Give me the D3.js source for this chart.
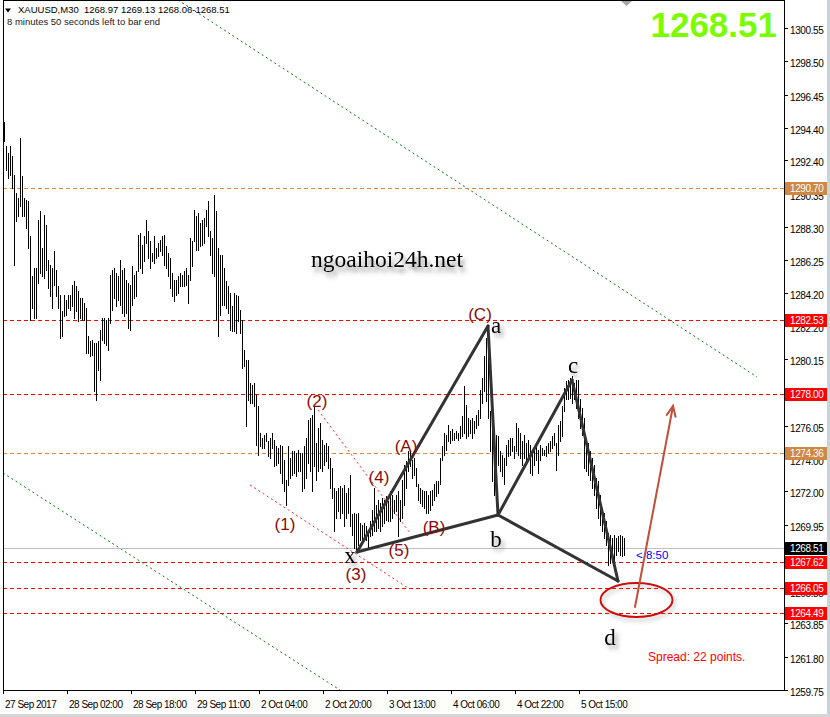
<!DOCTYPE html>
<html>
<head>
<meta charset="utf-8">
<script src="https://cdn.jsdelivr.net/npm/d3@7/dist/d3.min.js"></script>
<style>
html,body{margin:0;padding:0;background:#fff;}
svg{display:block;}
text{font-family:"Liberation Sans",Arial,sans-serif;}
</style>
</head>
<body>
<script>
// ---------------- DATA ----------------
const barHighs = [
1294.74,1293.26,1292.85,1293.26,1292.65,1291.52,1290.39,1290.08,1293.78,1291.42,
1290.08,1289.98,1289.87,1287.72,1285.25,1285.76,1285.76,1288.74,1289.26,1287.00,
1289.05,1288.44,1286.28,1285.97,1285.76,1286.79,1285.66,1284.63,1284.12,1283.09,
1284.12,1283.81,1284.12,1284.12,1284.74,1284.94,1284.63,1284.33,1283.91,1283.91,
1283.61,1283.30,1281.55,1281.24,1281.35,1281.14,1281.14,1281.24,1281.96,1282.68,
1282.68,1282.58,1282.68,1285.35,1285.66,1285.76,1285.46,1285.25,1286.28,1285.66,
1285.76,1285.04,1284.84,1284.74,1285.87,1285.35,1285.56,1287.82,1287.92,1287.20,
1287.72,1288.74,1288.02,1287.41,1286.69,1287.72,1287.00,1287.31,1287.51,1287.72,
1287.82,1287.10,1286.69,1286.38,1285.46,1285.04,1285.04,1285.25,1285.46,1285.35,
1285.56,1285.76,1285.35,1287.61,1287.41,1289.36,1288.95,1289.15,1288.54,1288.74,
1288.85,1289.36,1289.87,1288.02,1287.61,1290.29,1289.26,1287.00,1286.59,1286.59,
1285.76,1284.94,1284.63,1284.22,1283.40,1284.22,1284.12,1284.02,1283.20,1282.58,
1280.73,1280.11,1280.11,1278.67,1278.57,1278.67,1277.96,1277.24,1275.59,1275.28,
1275.49,1275.59,1275.08,1275.28,1275.59,1275.18,1274.77,1274.67,1274.87,1274.77,
1273.95,1272.71,1274.77,1274.05,1274.46,1274.46,1274.36,1274.56,1274.36,1274.36,
1274.77,1275.28,1276.41,1276.52,1276.72,1277.24,1274.98,
1275.91,1276.22,1275.17,1274.86,1274.98,1274.80,1274.06,1273.44,1272.21,1272.02,
1272.21,1272.33,1272.21,1272.39,1271.90,1272.21,1273.03,1270.57,1270.67,1270.57,
1270.67,1270.05,1269.95,1270.05,1269.85,1269.54,1270.15,1270.87,1272.21,1271.18,
1271.49,1271.28,1271.59,1271.49,1271.70,1271.39,1272.00,1271.80,1271.49,1271.80,
1272.00,1271.49,1272.72,1273.65,1273.85,1274.47,1274.57,1273.96,1274.06,1273.44,
1272.42,1272.21,1272.11,1272.00,1272.00,1271.80,1272.00,1272.11,1272.42,1272.62,
1272.62,1274.06,1274.78,1275.60,1275.50,1276.11,1275.70,1275.81,1275.60,1275.70,
1275.60,1276.01,1276.63,1278.48,1277.35,1276.52,1276.42,1276.52,1276.32,1276.73,
1277.04,1278.27,1278.99,1280.33,1281.46,1282.28,1276.94,1276.32,1275.50,1275.50,
1275.39,1274.47,1274.26,1274.06,1274.88,1275.19,1275.29,1275.29,1274.78,1276.22,
1275.91,1275.60,1275.09,1275.50,1274.98,1275.19,1274.88,1274.57,1274.78,1274.78,
1274.57,1274.88,1274.68,1274.57,1274.78,1274.98,1275.09,1275.39,1275.60,1274.98,
1276.11,1276.32,1277.24,1278.37,1278.79,1278.89,1278.99,1279.09,1278.68,1278.89,
1278.89,1277.66,1277.14,1276.52,1275.29,1274.98,1274.47,1274.06,1273.65,1272.83,
1272.62,1271.80,1270.98,1270.67,1270.15,1269.44,1269.33,1269.13,1269.33,1269.13,
1269.23,1269.33,1269.23,1269.13
];
const barLows = [
1293.57,1291.83,1291.31,1291.52,1290.70,1285.97,1288.64,1288.95,1289.57,1288.95,
1288.95,1288.23,1287.00,1282.58,1283.30,1282.68,1282.68,1284.84,1285.46,1285.25,
1285.15,1285.66,1284.53,1284.02,1283.30,1284.74,1284.02,1283.30,1281.45,1281.55,
1282.78,1282.89,1283.30,1283.20,1283.40,1282.68,1283.09,1282.48,1282.68,1282.58,
1282.58,1280.52,1280.52,1280.32,1280.42,1278.16,1277.65,1279.50,1278.88,1281.35,
1281.14,1281.04,1280.73,1282.37,1283.20,1283.91,1283.40,1283.81,1283.50,1282.99,
1282.78,1282.99,1282.07,1281.96,1283.50,1283.91,1284.02,1285.56,1285.76,1285.46,
1286.18,1287.31,1286.38,1285.76,1286.18,1286.07,1286.38,1286.48,1286.79,1286.59,
1285.97,1285.76,1285.25,1284.53,1284.02,1283.71,1284.12,1284.22,1284.63,1284.63,
1284.63,1284.74,1283.61,1285.04,1285.87,1287.41,1286.89,1286.89,1287.10,1287.20,
1287.31,1288.33,1287.72,1286.59,1285.46,1285.25,1282.58,1281.55,1282.89,1283.50,
1283.50,1283.30,1282.99,1281.96,1281.86,1281.86,1281.76,1282.48,1281.76,1279.60,
1279.70,1276.00,1277.65,1277.44,1277.44,1277.24,1274.87,1274.26,1274.77,1274.67,
1274.67,1275.08,1274.15,1274.05,1274.67,1273.54,1273.64,1273.74,1273.13,1272.51,
1272.00,1271.17,1272.41,1272.82,1273.02,1273.13,1272.92,1273.23,1273.23,1272.00,
1272.20,1272.82,1273.74,1273.23,1272.00,1273.54,1272.71,
1273.26,1273.44,1273.26,1273.63,1273.87,1273.44,1272.21,1271.59,1269.56,1270.36,
1270.79,1270.36,1270.67,1269.87,1270.36,1270.67,1269.85,1269.33,1268.51,1268.31,
1268.72,1269.02,1268.92,1269.13,1269.02,1268.51,1269.23,1269.33,1269.54,1269.54,
1269.74,1269.54,1269.85,1270.05,1270.26,1270.15,1270.15,1270.36,1270.67,1270.77,
1269.23,1270.15,1270.36,1271.18,1272.21,1273.24,1273.54,1272.83,1273.03,1272.31,
1271.49,1271.28,1271.08,1270.98,1270.67,1270.67,1270.87,1271.18,1271.49,1271.70,
1271.90,1272.42,1273.96,1274.26,1274.57,1275.09,1274.98,1275.19,1275.19,1275.29,
1275.19,1275.29,1275.39,1275.60,1275.29,1275.39,1275.60,1275.29,1275.60,1275.91,
1276.11,1276.52,1277.45,1278.17,1277.55,1276.52,1274.47,1272.62,1271.80,1273.03,
1273.65,1273.24,1272.93,1272.42,1273.65,1274.16,1274.26,1274.47,1274.06,1274.47,
1274.26,1274.06,1273.65,1274.06,1273.96,1273.85,1273.13,1273.03,1273.65,1273.96,
1273.13,1273.96,1274.26,1274.26,1274.16,1274.37,1274.47,1274.68,1274.88,1273.34,
1274.26,1275.09,1275.39,1276.94,1277.66,1277.66,1277.76,1277.45,1277.66,1277.14,
1276.52,1275.91,1275.50,1273.44,1273.24,1273.03,1272.72,1272.21,1271.80,1270.98,
1270.36,1269.95,1269.54,1269.13,1268.72,1267.48,1267.59,1267.89,1267.69,1268.10,
1268.31,1268.10,1268.00,1268.06
];

const timeLabels = ["27 Sep 2017","28 Sep 02:00","28 Sep 18:00","29 Sep 11:00","2 Oct 04:00",
                    "2 Oct 20:00","3 Oct 13:00","4 Oct 06:00","4 Oct 22:00","5 Oct 15:00"];
const timeLabelBars = [0,32,64,96,128,160,192,224,256,288];

const priceTicks = [1300.55,1298.50,1296.45,1294.40,1292.40,1290.35,1288.30,1286.25,1284.20,1282.20,
                    1280.15,1278.10,1276.05,1274.00,1272.00,1269.95,1267.90,1265.85,1263.85,1261.80,1259.75];

const levelPrices = [1290.70,1282.53,1278.00,1274.36,1267.62,1266.05,1264.49];
const levelKinds  = ["orange","red","red","orange","red","red","red"];
const currentPrice = 1268.51;

const headerLine1 = "XAUUSD,M30  1268.97 1269.13 1268.06-1268.51";
const headerLine2 = "8 minutes 50 seconds left to bar end";
const timerText = "< 8:50";
const spreadText = "Spread: 22 points.";
const watermark = "ngoaihoi24h.net";

// XABCD pattern
const patternBars   = [176.5, 242, 247, 284, 307];
const patternPrices = [1268.26, 1282.19, 1270.54, 1278.86, 1266.47];
const patternLegs   = [[0,1],[1,2],[2,3],[3,4],[0,2],[2,4]];
const letterTexts   = ["x","a","b","c","d"];
const letterBars    = [173, 246, 246, 284.5, 303];
const letterPrices  = [1267.58, 1281.76, 1268.57, 1279.29, 1262.52];

// Elliott wave labels
const waveTexts  = ["(1)","(2)","(3)","(4)","(5)","(A)","(B)","(C)"];
const waveBars   = [140.5, 156.5, 176, 187.5, 197.5, 201, 215, 238];
const wavePrices = [1269.98, 1277.51, 1266.84, 1272.82, 1268.38, 1274.79, 1269.74, 1282.87];

// trend lines: [bar, price] pairs
const greenLineStarts = [[87, 1302.29], [-0.5, 1273.13]];
const greenLineEnds   = [[376.5, 1279.05], [168, 1259.75]];
const redLineStarts   = [[157, 1277.01], [123, 1272.39]];
const redLineEnds     = [[203, 1269.43], [202, 1266.04]];

// target zone ellipse + arrow
const zoneCenter = [316.25, 1265.30];
const zoneHalf   = [18, 1.05];
const arrowFrom  = [315.5, 1264.87];
const arrowTo    = [334.5, 1277.26];

// ---------------- CHART ----------------
const W = 830, H = 717;
const L = 3, R = 784, T = 0, B = 690;

const svg = d3.select("body").append("svg").attr("width", W).attr("height", H);
const defs = svg.append("defs");
defs.append("clipPath").attr("id","plotClip").append("rect")
  .attr("x", L+1).attr("y", T+1).attr("width", R-L-1).attr("height", B-T-1);
const sh = defs.append("filter").attr("id","shadow").attr("x","-30%").attr("y","-30%").attr("width","180%").attr("height","180%");
sh.append("feDropShadow").attr("dx",3).attr("dy",4).attr("stdDeviation",2).attr("flood-color","#555").attr("flood-opacity",0.55);
const sh2 = defs.append("filter").attr("id","shadow2").attr("x","-10%").attr("y","-30%").attr("width","130%").attr("height","200%");
sh2.append("feDropShadow").attr("dx",3).attr("dy",5).attr("stdDeviation",2.2).attr("flood-color","#444").attr("flood-opacity",0.6);
const sh3 = defs.append("filter").attr("id","shadow3").attr("x","-20%").attr("y","-30%").attr("width","150%").attr("height","180%");
sh3.append("feDropShadow").attr("dx",2).attr("dy",3).attr("stdDeviation",2).attr("flood-color","#777").attr("flood-opacity",0.45);

svg.append("rect").attr("width", W).attr("height", H).attr("fill","#fff");

const x = d3.scaleLinear().domain([0, 310]).range([4, 624]);
const y = d3.scaleLinear().domain([1259.75, 1300.55]).range([690, 28.2]);

const plot = svg.append("g").attr("clip-path","url(#plotClip)");

// green dotted channel lines
greenLineStarts.forEach((s,k) => {
  const e = greenLineEnds[k];
  plot.append("line").attr("x1", x(s[0])).attr("y1", y(s[1])).attr("x2", x(e[0])).attr("y2", y(e[1]))
    .attr("stroke","#0a7a0a").attr("stroke-width",1).attr("stroke-dasharray","2,3");
});

// horizontal levels
const levelColor = {orange:"#e0893a", red:"#ff0000"};
levelPrices.forEach((p,k) => {
  const yy = Math.round(y(p)) + 0.5;
  plot.append("line").attr("x1", L).attr("x2", R).attr("y1", yy).attr("y2", yy)
    .attr("stroke", levelColor[levelKinds[k]]).attr("stroke-width",1).attr("stroke-dasharray","4,3");
});
// current price line
{
  const yy = Math.round(y(currentPrice)) + 0.5;
  plot.append("line").attr("x1", L).attr("x2", R).attr("y1", yy).attr("y2", yy)
    .attr("stroke","#c0c0c0").attr("stroke-width",1);
}

// bars
plot.append("g").selectAll("rect").data(barHighs).join("rect")
  .attr("x", (d,i) => Math.round(x(i)))
  .attr("y", d => Math.round(y(d)))
  .attr("width", 1)
  .attr("height", (d,i) => Math.max(1, Math.round(y(barLows[i])) - Math.round(y(d)) + 1))
  .attr("fill","#000");

// red dotted wave lines
redLineStarts.forEach((s,k) => {
  const e = redLineEnds[k];
  plot.append("line").attr("x1", x(s[0])).attr("y1", y(s[1])).attr("x2", x(e[0])).attr("y2", y(e[1]))
    .attr("stroke","#ff2020").attr("stroke-width",1).attr("stroke-dasharray","2,3");
});

// pattern legs
patternLegs.forEach(([a,b]) => {
  plot.append("line")
    .attr("x1", x(patternBars[a])).attr("y1", y(patternPrices[a]))
    .attr("x2", x(patternBars[b])).attr("y2", y(patternPrices[b]))
    .attr("stroke","#333").attr("stroke-width",3).attr("stroke-linecap","round");
});

// wave labels
waveTexts.forEach((t,k) => {
  plot.append("text").attr("x", x(waveBars[k])).attr("y", y(wavePrices[k]))
    .attr("text-anchor","middle").attr("dominant-baseline","central")
    .attr("font-size","17px").attr("fill","#8b0a0a").text(t);
});

// pattern letters
letterTexts.forEach((t,k) => {
  plot.append("text").attr("x", x(letterBars[k])).attr("y", y(letterPrices[k]))
    .attr("text-anchor","middle").attr("font-size","23px")
    .style("font-family","'Liberation Serif','Times New Roman',serif")
    .attr("fill","#000").attr("filter","url(#shadow)").text(t);
});

// watermark
plot.append("text").attr("x", 387).attr("y", 267).attr("text-anchor","middle")
  .attr("font-size","23.5px").style("font-family","'Liberation Serif','Times New Roman',serif")
  .attr("fill","#000").attr("filter","url(#shadow2)").text(watermark);

// target ellipse
plot.append("ellipse")
  .attr("cx", x(zoneCenter[0])).attr("cy", y(zoneCenter[1]))
  .attr("rx", x(zoneCenter[0] + zoneHalf[0]) - x(zoneCenter[0]))
  .attr("ry", y(zoneCenter[1] - zoneHalf[1]) - y(zoneCenter[1]))
  .attr("fill","none").attr("stroke","#cc1111").attr("stroke-width",2).attr("filter","url(#shadow3)");

// arrow
{
  const x1 = x(arrowFrom[0]), y1 = y(arrowFrom[1]), x2 = x(arrowTo[0]), y2 = y(arrowTo[1]);
  const ang = Math.atan2(y2 - y1, x2 - x1);
  const len = 11, spread = 0.42;
  const g = plot.append("g").attr("stroke","#c0503a").attr("stroke-width",2).attr("fill","none").attr("stroke-linecap","round");
  g.append("line").attr("x1",x1).attr("y1",y1).attr("x2",x2).attr("y2",y2);
  g.append("path").attr("d",
    `M${x2 - len*Math.cos(ang - spread)},${y2 - len*Math.sin(ang - spread)}L${x2},${y2}L${x2 - len*Math.cos(ang + spread)},${y2 - len*Math.sin(ang + spread)}`);
}

// timer text
plot.append("text").attr("x", x(316)).attr("y", y(currentPrice) + 7).attr("dominant-baseline","central")
  .attr("font-size","11.5px").attr("fill","#0000ff").text(timerText);

// spread text
plot.append("text").attr("x", 648).attr("y", 661).attr("font-size","12px").attr("fill","#ff0000").text(spreadText);

// big price
svg.append("text").attr("x", 777).attr("y", 37).attr("text-anchor","end")
  .attr("font-size","35px").attr("font-weight","bold").attr("fill","#7cfc00").text(d3.format(".2f")(currentPrice));

// header
svg.append("path").attr("d","M5,8.5L11,8.5L8,12.5Z").attr("fill","#000");
svg.append("text").attr("x", 18).attr("y", 13).attr("font-size","9.5px").attr("fill","#000")
  .style("white-space","pre").text(headerLine1);
svg.append("text").attr("x", 7).attr("y", 25).attr("font-size","9.5px").attr("fill","#1a1a1a").text(headerLine2);

// shift marker
svg.append("path").attr("d","M621,1L632,1L626.5,6Z").attr("fill","#a8a8a8");

// frame
svg.append("rect").attr("x", L+0.5).attr("y", T+0.5).attr("width", R-L).attr("height", B-T)
  .attr("fill","none").attr("stroke","#000").attr("stroke-width",1);

// price axis ticks and labels
const yAxisG = svg.append("g");
priceTicks.forEach(p => {
  const yy = Math.round(y(p)) + 0.5;
  yAxisG.append("line").attr("x1", R).attr("x2", R+4).attr("y1", yy).attr("y2", yy).attr("stroke","#000");
  yAxisG.append("text").attr("x", 790).attr("y", yy + 2).attr("dominant-baseline","central")
    .attr("font-size","10px").style("letter-spacing","-0.4px").attr("fill","#000").text(d3.format(".2f")(p));
});

// level labels on axis
const boxColor = {orange:"#cc8844", red:"#ff0000"};
function axisBox(p, bg) {
  const yy = Math.round(y(p));
  yAxisG.append("rect").attr("x", 785).attr("y", yy - 6).attr("width", 42).attr("height", 13).attr("fill", bg);
  yAxisG.append("text").attr("x", 790).attr("y", yy + 0.5).attr("dominant-baseline","central")
    .attr("font-size","10px").style("letter-spacing","-0.4px").attr("fill","#fff").text(d3.format(".2f")(p));
}
levelPrices.forEach((p,k) => axisBox(p, boxColor[levelKinds[k]]));
axisBox(currentPrice, "#000");

// time axis
const xAxisG = svg.append("g");
timeLabels.forEach((t,k) => {
  const xx = Math.round(x(timeLabelBars[k])) - 0.5;
  xAxisG.append("line").attr("x1", xx).attr("x2", xx).attr("y1", B).attr("y2", B+4).attr("stroke","#000");
  xAxisG.append("text").attr("x", xx + 1.5).attr("y", 708).attr("font-size","10px")
    .style("letter-spacing","-0.5px").attr("fill","#000").text(t);
});

// window edges
svg.append("rect").attr("x", 827).attr("y", 0).attr("width", 3).attr("height", H).attr("fill","#c4d6db");
svg.append("rect").attr("x", 0).attr("y", 714).attr("width", W).attr("height", 3).attr("fill","#d6d6d6");
</script>
</body>
</html>
